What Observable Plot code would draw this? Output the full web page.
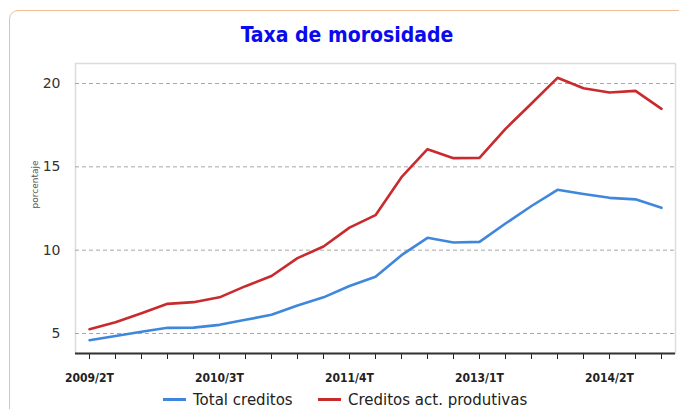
<!DOCTYPE html>
<html>
<head>
<meta charset="utf-8">
<script src="https://cdn.jsdelivr.net/npm/d3@7"></script>
<script src="https://cdn.jsdelivr.net/npm/@observablehq/plot@0.6"></script>
<style>
  html, body { margin: 0; padding: 0; background: #fff; width: 679px; height: 409px; overflow: hidden; }
  #card { position: absolute; left: 9px; top: 10px; width: 720px; height: 500px; border: 1px solid #f1bd96; border-radius: 9px; box-sizing: border-box; }
  #title { position: absolute; left: 0; top: 23px; width: 694px; text-align: center; font-family: "DejaVu Sans Condensed", "DejaVu Sans", sans-serif; font-weight: bold; font-size: 21px; color: #0a0aee; }
  #chart { position: absolute; left: 0; top: 0; }
  #legend { position: absolute; left: 0; top: 392px; width: 679px; height: 16px; font-family: "DejaVu Sans", sans-serif; font-size: 15px; line-height: 16px; color: #222; }
  .item { position: absolute; top: 0; white-space: nowrap; }
  .sw { display: inline-block; width: 23px; height: 3px; vertical-align: middle; margin-right: 7px; position: relative; top: -1px; }
</style>
</head>
<body>
<div id="card"></div>
<div id="title">Taxa de morosidade</div>
<div id="chart"></div>
<div id="legend"></div>
<script>
const periods = ["2009/2T","2009/3T","2009/4T","2010/1T","2010/2T","2010/3T","2010/4T","2011/1T","2011/2T","2011/3T","2011/4T","2012/1T","2012/2T","2012/3T","2012/4T","2013/1T","2013/2T","2013/3T","2013/4T","2014/1T","2014/2T","2014/3T","2014/4T"];
const tickLabels = ["2009/2T","2010/3T","2011/4T","2013/1T","2014/2T"];
const totalCreditos = [4.6,4.85,5.1,5.34,5.35,5.52,5.82,6.12,6.68,7.17,7.85,8.4,9.7,10.74,10.46,10.5,11.6,12.65,13.62,13.37,13.14,13.05,12.54];
const creditosProdutivas = [5.26,5.68,6.22,6.78,6.88,7.17,7.84,8.45,9.52,10.22,11.35,12.1,14.38,16.06,15.52,15.54,17.28,18.8,20.34,19.72,19.46,19.56,18.48];
const seriesNames = ["Total creditos","Creditos act. produtivas"];
const seriesColors = ["#3f87dc","#c92a2e"];
const yTicks = [5,10,15,20];
const yDomain = [3.8, 21.2];
const yLabel = "porcentaje";

const rows = [];
periods.forEach((p, i) => {
  rows.push({period: p, value: totalCreditos[i], serie: seriesNames[0]});
  rows.push({period: p, value: creditosProdutivas[i], serie: seriesNames[1]});
});
const labelSet = new Set(tickLabels);

const chart = Plot.plot({
  width: 679,
  height: 390,
  marginLeft: 75,
  marginRight: 4,
  marginTop: 63,
  marginBottom: 37,
  style: {fontFamily: "'DejaVu Sans Condensed', 'DejaVu Sans', sans-serif", background: "transparent"},
  x: {type: "point", domain: periods, padding: 0.45},
  y: {domain: yDomain},
  color: {domain: seriesNames, range: seriesColors},
  marks: [
    Plot.frame({stroke: "#dcdcdc", strokeWidth: 1.5}),
    Plot.gridY(yTicks, {stroke: "#a8a8a8", strokeOpacity: 1, strokeDasharray: "4,3"}),
    Plot.axisY(yTicks, {tickSize: 0, tickPadding: 15, fontSize: 14, fill: "#333", fontFamily: "'DejaVu Sans', sans-serif", label: null}),
    Plot.text([yLabel], {frameAnchor: "left", dx: -40, rotate: -90, fontSize: 9, fill: "#555", fontFamily: "'DejaVu Sans', sans-serif"}),
    Plot.axisX({tickSize: 6, tickPadding: 14, fontSize: 12, fontWeight: "bold", fill: "#222", stroke: "#222", tickFormat: d => labelSet.has(d) ? d : "", label: null}),
    Plot.ruleY([yDomain[0]], {stroke: "#333", strokeWidth: 2}),
    Plot.line(rows, {x: "period", y: "value", z: "serie", stroke: "serie", strokeWidth: 2.6})
  ]
});
document.getElementById("chart").appendChild(chart);

const legend = document.getElementById("legend");
const lx = [163, 318];
seriesNames.forEach((n, i) => {
  const d = document.createElement("div");
  d.className = "item";
  d.style.left = lx[i] + "px";
  d.innerHTML = `<span class="sw" style="background:${seriesColors[i]}"></span>${n}`;
  legend.appendChild(d);
});
</script>
</body>
</html>
